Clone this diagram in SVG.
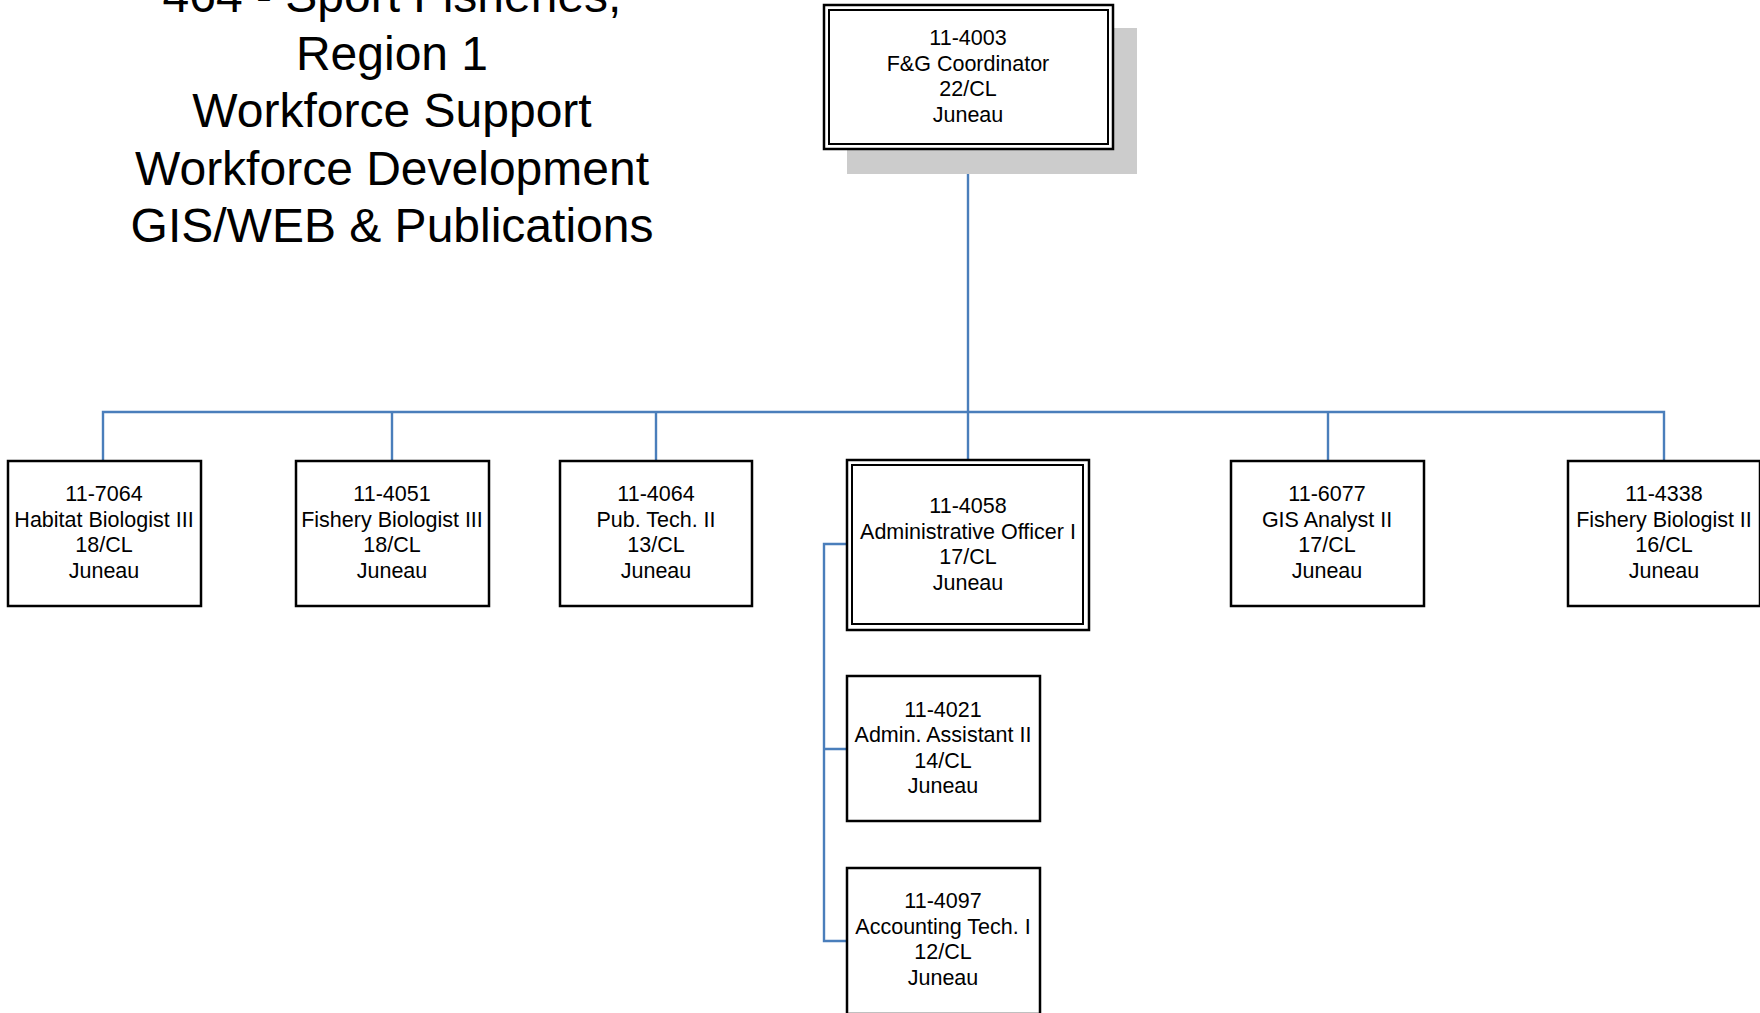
<svg xmlns="http://www.w3.org/2000/svg" width="1760" height="1013" viewBox="0 0 1760 1013">
<style>
.box{fill:#fff;stroke:#000;stroke-width:2.5}
.in{fill:none;stroke:#000;stroke-width:2}
.t{font-family:"Liberation Sans",Arial,sans-serif;font-size:21.5px;fill:#000;text-anchor:middle}
.title{font-family:"Liberation Sans",Arial,sans-serif;font-size:48px;fill:#000;text-anchor:middle}
.c{fill:none;stroke:#4a7ebb;stroke-width:2.4}
</style>
<rect width="1760" height="1013" fill="#fff"/>
<g id="title">
<text class="title" x="392" y="12">464 - Sport Fisheries,</text>
<text class="title" x="392" y="69.5">Region 1</text>
<text class="title" x="392" y="127">Workforce Support</text>
<text class="title" x="392" y="184.5">Workforce Development</text>
<text class="title" x="392" y="242">GIS/WEB &amp; Publications</text>
</g>
<g id="connectors">
<path class="c" d="M968,149 V412"/>
<path class="c" d="M103,461 V412 H1664 V461"/>
<path class="c" d="M392,412 V461 M656,412 V461 M968,412 V460 M1328,412 V461"/>
<path class="c" d="M847,544 H824 V941 H847 M824,749 H847"/>
</g>
<g id="n4003">
<rect x="847" y="28" width="290" height="146" fill="#cccccc"/>
<rect class="box" x="824" y="5" width="289" height="144"/>
<rect class="in" x="829" y="10" width="279" height="134"/>
<text class="t" x="968" y="45">11-4003</text>
<text class="t" x="968" y="70.5">F&amp;G Coordinator</text>
<text class="t" x="968" y="96">22/CL</text>
<text class="t" x="968" y="121.5">Juneau</text>
</g>
<g id="n7064">
<rect class="box" x="8" y="461" width="193" height="145"/>
<text class="t" x="104" y="501">11-7064</text>
<text class="t" x="104" y="526.5">Habitat Biologist III</text>
<text class="t" x="104" y="552">18/CL</text>
<text class="t" x="104" y="577.5">Juneau</text>
</g>
<g id="n4051">
<rect class="box" x="296" y="461" width="193" height="145"/>
<text class="t" x="392" y="501">11-4051</text>
<text class="t" x="392" y="526.5">Fishery Biologist III</text>
<text class="t" x="392" y="552">18/CL</text>
<text class="t" x="392" y="577.5">Juneau</text>
</g>
<g id="n4064">
<rect class="box" x="560" y="461" width="192" height="145"/>
<text class="t" x="656" y="501">11-4064</text>
<text class="t" x="656" y="526.5">Pub. Tech. II</text>
<text class="t" x="656" y="552">13/CL</text>
<text class="t" x="656" y="577.5">Juneau</text>
</g>
<g id="n4058">
<rect class="box" x="847" y="460" width="242" height="170"/>
<rect class="in" x="852" y="465" width="231" height="159"/>
<text class="t" x="968" y="513">11-4058</text>
<text class="t" x="968" y="538.5">Administrative Officer I</text>
<text class="t" x="968" y="564">17/CL</text>
<text class="t" x="968" y="589.5">Juneau</text>
</g>
<g id="n6077">
<rect class="box" x="1231" y="461" width="193" height="145"/>
<text class="t" x="1327" y="501">11-6077</text>
<text class="t" x="1327" y="526.5">GIS Analyst II</text>
<text class="t" x="1327" y="552">17/CL</text>
<text class="t" x="1327" y="577.5">Juneau</text>
</g>
<g id="n4338">
<rect class="box" x="1568" y="461" width="192" height="145"/>
<text class="t" x="1664" y="501">11-4338</text>
<text class="t" x="1664" y="526.5">Fishery Biologist II</text>
<text class="t" x="1664" y="552">16/CL</text>
<text class="t" x="1664" y="577.5">Juneau</text>
</g>
<g id="n4021">
<rect class="box" x="847" y="676" width="193" height="145"/>
<text class="t" x="943" y="716.5">11-4021</text>
<text class="t" x="943" y="742">Admin. Assistant II</text>
<text class="t" x="943" y="767.5">14/CL</text>
<text class="t" x="943" y="793">Juneau</text>
</g>
<g id="n4097">
<rect class="box" x="847" y="868" width="193" height="146"/>
<text class="t" x="943" y="908">11-4097</text>
<text class="t" x="943" y="934">Accounting Tech. I</text>
<text class="t" x="943" y="959">12/CL</text>
<text class="t" x="943" y="985">Juneau</text>
</g>
</svg>
